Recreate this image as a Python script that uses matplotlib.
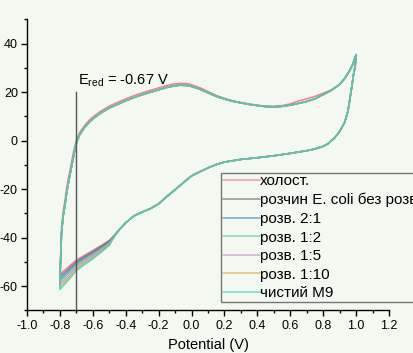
import matplotlib
matplotlib.use("Agg")
import matplotlib.pyplot as plt
from matplotlib.ticker import MultipleLocator

plt.rcParams['font.family'] = ['Liberation Sans', 'DejaVu Sans']
plt.rcParams['axes.unicode_minus'] = False

# ---------------- DATA ----------------
labels = ["холост.", "розчин E. coli без розв", "розв. 2:1", "розв. 1:2",
          "розв. 1:5", "розв. 1:10", "чистий M9"]
colors = ["#ec6f7a", "#6a6a6a", "#4a86c8", "#5cbf9c", "#c98fd0", "#dcae3c", "#3fcbc4"]

# anodic scan (-0.8 -> 1.0 V), shared by all curves
pot_fwd = [-0.795, -0.79, -0.78, -0.77, -0.76, -0.75, -0.74, -0.73, -0.72, -0.71,
           -0.70, -0.68, -0.65, -0.62, -0.60, -0.55, -0.50, -0.45, -0.40, -0.35,
           -0.30, -0.25, -0.20, -0.15, -0.10, -0.07, -0.03, 0.00, 0.05, 0.10,
           0.15, 0.20, 0.25, 0.30, 0.35, 0.40, 0.45, 0.50, 0.55, 0.60,
           0.65, 0.70, 0.75, 0.80, 0.85, 0.90, 0.93, 0.96, 0.98, 1.00]
cur_fwd = [-48.0, -38.0, -31.0, -27.0, -22.0, -18.0, -14.5, -11.0, -7.5, -4.0,
           -1.0, 2.5, 5.5, 7.8, 9.0, 11.5, 13.5, 15.0, 16.5, 17.8,
           19.0, 20.0, 21.0, 22.0, 22.7, 22.9, 22.8, 22.4, 21.3, 19.8,
           18.3, 17.2, 16.3, 15.6, 15.0, 14.5, 14.1, 14.0, 14.2, 14.7,
           15.4, 16.2, 17.3, 19.0, 20.8, 23.2, 25.6, 28.8, 31.5, 35.5]
# blank curve sits a little above the others on the anodic scan
cur_fwd_holost = [-46.0, -35.5, -29.0, -25.0, -20.0, -16.0, -12.5, -9.0, -5.5, -2.5,
                  0.2, 3.4, 6.3, 8.6, 9.8, 12.3, 14.3, 15.8, 17.3, 18.6,
                  19.8, 20.8, 21.8, 22.8, 23.5, 23.7, 23.6, 23.1, 21.9, 20.3,
                  18.7, 17.5, 16.5, 15.8, 15.2, 14.7, 14.3, 14.2, 14.5, 15.2,
                  16.4, 17.3, 18.3, 19.6, 21.0, 23.3, 25.6, 28.8, 31.5, 35.5]

# cathodic scan (1.0 -> -0.43 V), shared
pot_rev = [1.00, 0.995, 0.985, 0.97, 0.95, 0.93, 0.90, 0.87, 0.83, 0.80,
           0.75, 0.70, 0.60, 0.50, 0.40, 0.30, 0.20, 0.15, 0.10, 0.05,
           0.00, -0.05, -0.10, -0.15, -0.20, -0.25, -0.30, -0.35, -0.40, -0.43]
cur_rev = [35.5, 31.0, 27.5, 20.5, 12.0, 7.5, 3.8, 1.2, -1.2, -2.3,
           -3.4, -4.1, -5.2, -6.2, -7.0, -7.7, -8.8, -9.8, -11.2, -12.8,
           -14.5, -17.3, -20.2, -23.0, -26.0, -28.0, -29.4, -31.0, -33.8, -36.0]

# end of cathodic scan, where the curves fan out
pot_tail = [-0.46, -0.50, -0.55, -0.60, -0.65, -0.70, -0.75, -0.78, -0.80]
tail_holost = [-38.4, -41.1, -43.2, -45.2, -47.2, -49.2, -52.1, -53.8, -55.1]
tail_ecoli = [-38.4, -41.4, -43.7, -45.8, -47.8, -49.9, -53.0, -54.8, -56.1]
tail_2_1 = [-38.4, -41.8, -44.1, -46.4, -48.4, -50.6, -53.9, -55.8, -57.2]
tail_1_2 = [-38.4, -42.1, -44.6, -46.9, -49.1, -51.3, -54.8, -56.8, -58.2]
tail_1_5 = [-38.4, -42.5, -45.1, -47.5, -49.7, -52.1, -55.8, -57.8, -59.2]
tail_1_10 = [-38.4, -42.8, -45.5, -48.1, -50.4, -52.8, -56.7, -58.8, -60.3]
tail_m9 = [-38.4, -43.2, -46.0, -48.7, -51.0, -53.5, -57.6, -59.8, -61.3]
tails = [tail_holost, tail_ecoli, tail_2_1, tail_1_2, tail_1_5, tail_1_10, tail_m9]

e_red = -0.70
e_red_top = 20

bg = "#f3f9f1"

# ---------------- PLOT ----------------
fig = plt.figure(figsize=(4.14, 3.53), dpi=100, facecolor=bg)
ax = fig.add_axes([0.0652, 0.1204, 0.8744, 0.8244], facecolor=bg)

for i, (lab, col, tail) in enumerate(zip(labels, colors, tails)):
    fwd = cur_fwd_holost if i == 0 else cur_fwd
    x = pot_tail + pot_fwd + pot_rev + pot_tail[:1]
    y = tail + fwd + cur_rev + tail[:1]
    ax.plot(x, y, color=col, lw=1.1, alpha=0.85, label=lab)

ax.plot([e_red, e_red], [e_red_top, -70], color="#555555", lw=1.0)
ax.text(-0.69, 21.3, r"E$_{\mathregular{red}}$ = -0.67 V", fontsize=10.5,
        ha="left", va="bottom")

ax.set_xlim(-1.0, 1.2)
ax.set_ylim(-70, 50)
ax.xaxis.set_minor_locator(MultipleLocator(0.1))
ax.yaxis.set_minor_locator(MultipleLocator(10))
ax.set_yticks([-60, -40, -20, 0, 20, 40])
ax.set_xticks([-1.0, -0.8, -0.6, -0.4, -0.2, 0.0, 0.2, 0.4, 0.6, 0.8, 1.0, 1.2])
ax.set_xticklabels(["-1.0", "-0.8", "-0.6", "-0.4", "-0.2", "0.0", "0.2",
                    "0.4", "0.6", "0.8", "1.0", "1.2"])
ax.tick_params(which="major", direction="out", length=4.5, width=1,
               labelsize=9, pad=2)
ax.tick_params(which="minor", direction="out", length=2.5, width=1)
for s in ["top", "right"]:
    ax.spines[s].set_visible(False)
for s in ["left", "bottom"]:
    ax.spines[s].set_linewidth(1.0)
ax.set_xlabel("Potential (V)", fontsize=10.5, labelpad=4.5)

leg = ax.legend(loc="upper left", bbox_to_anchor=(0.536, 0.474),
                fontsize=11, frameon=True, fancybox=False,
                borderpad=0.12, borderaxespad=0, handlelength=2.4,
                handletextpad=0.05, labelspacing=0.3)
leg.get_frame().set_edgecolor("#555555")
leg.get_frame().set_facecolor(bg)
leg.get_frame().set_linewidth(1.0)
for h in leg.get_lines():
    h.set_alpha(0.7)

fig.savefig("out.png", dpi=100, facecolor=bg)
